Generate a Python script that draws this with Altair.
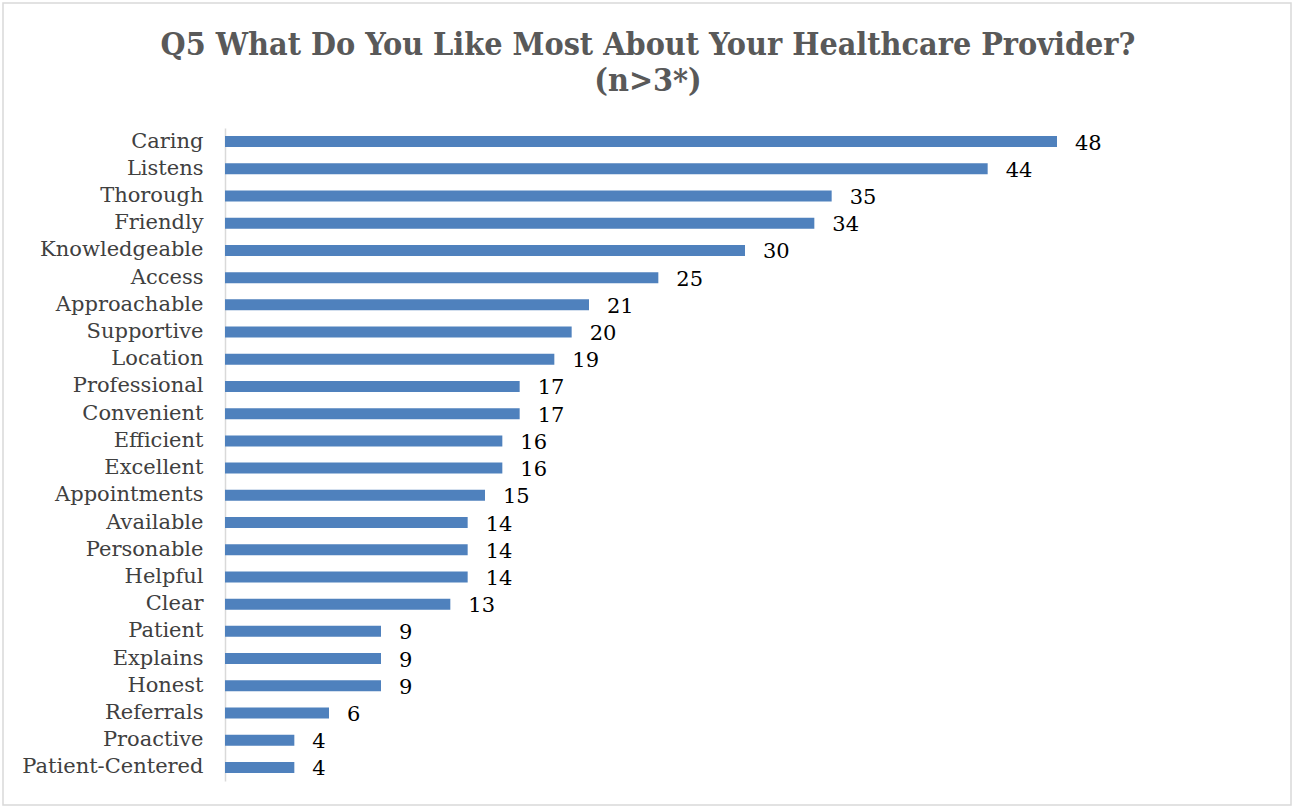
import altair as alt
import pandas as pd

categories = ["Caring", "Listens", "Thorough", "Friendly", "Knowledgeable", "Access",
              "Approachable", "Supportive", "Location", "Professional", "Convenient",
              "Efficient", "Excellent", "Appointments", "Available", "Personable",
              "Helpful", "Clear", "Patient", "Explains", "Honest", "Referrals",
              "Proactive", "Patient-Centered"]
values = [48, 44, 35, 34, 30, 25, 21, 20, 19, 17, 17, 16, 16, 15, 14, 14, 14, 13,
          9, 9, 9, 6, 4, 4]
title_lines = ["Q5 What Do You Like Most About Your Healthcare Provider?", "(n>3*)"]

df = pd.DataFrame({"category": categories, "value": values})

W, H = 832, 653
serif = "DejaVu Serif"

x = alt.X("value:Q", scale=alt.Scale(domain=[0, 48], nice=False, zero=True), axis=None)
y = alt.Y("category:N", sort=categories, title=None,
          scale=alt.Scale(paddingInner=0.6, paddingOuter=0.3),
          axis=alt.Axis(ticks=False, domainColor="#d9d9d9", domainWidth=1.5,
                        labelFont=serif, labelFontSize=21, labelColor="#404040",
                        labelPadding=22, labelLimit=400))

bars = alt.Chart(df).mark_bar(color="#4f81bd", size=11).encode(x=x, y=y)
labels = alt.Chart(df).mark_text(align="left", baseline="middle", dx=18, dy=2,
                                 font=serif, fontSize=21, color="#000000").encode(
    x=x, y=y, text="value:Q")

frame = alt.Chart(pd.DataFrame({"a": [0]})).mark_rect(
    fill=None, stroke="#d9d9d9", strokeWidth=1.5).encode(
    x=alt.value(-222), x2=alt.value(1066), y=alt.value(-125), y2=alt.value(677))

tdf = pd.DataFrame({"t": title_lines, "yy": [-83, -47]})
title = alt.Chart(tdf).mark_text(
    font="DejaVu Serif Condensed", fontSize=32, fontWeight="bold", color="#595959",
    align="center", baseline="middle").encode(
    text="t:N", x=alt.value(423), y=alt.Y("yy:Q", scale=None))

chart = alt.layer(frame, bars, labels, title).properties(
    width=W, height=H,
    background="white",
    autosize=alt.AutoSizeParams(type="none"),
    padding={"left": 225, "top": 128, "right": 238, "bottom": 27},
).configure_view(stroke="transparent", strokeWidth=0)

chart.save("out.html", embed_options={"renderer": "svg", "actions": False})
